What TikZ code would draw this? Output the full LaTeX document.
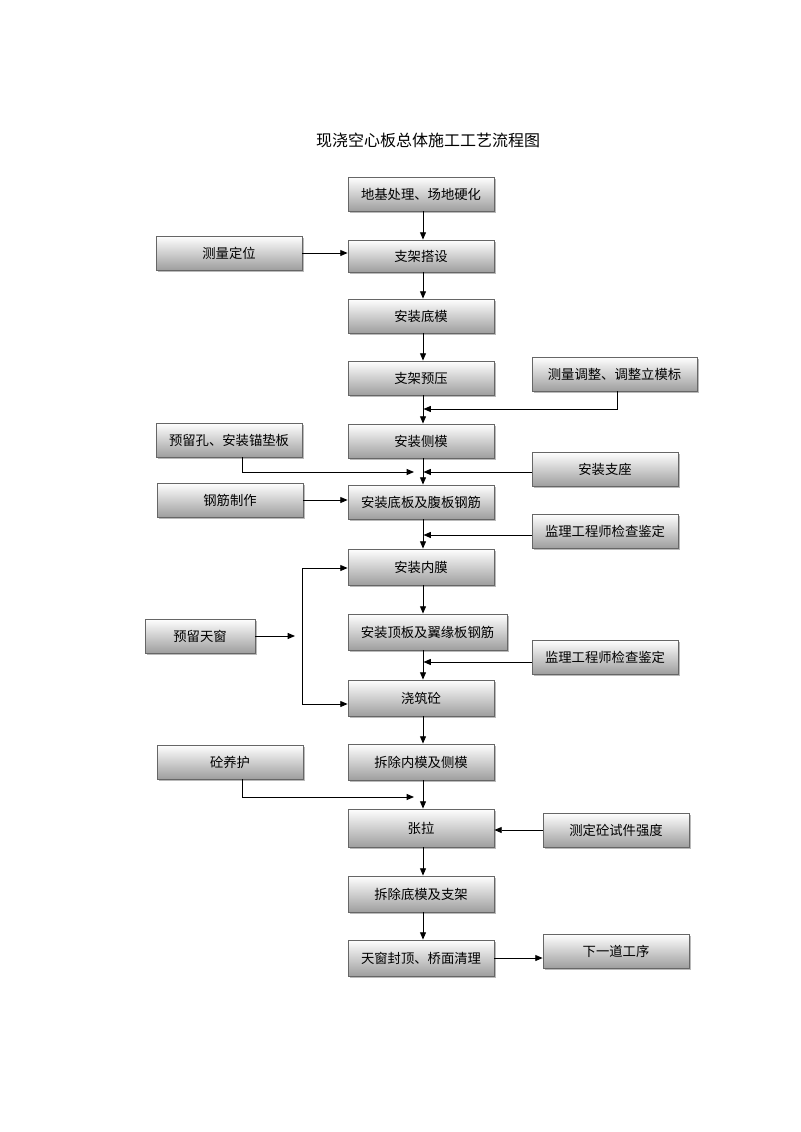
\documentclass[tikz,border=0pt]{standalone}
\usepackage{fontspec}
\newfontfamily\cjk{Noto Sans CJK SC}
\usetikzlibrary{arrows.meta,shadows,calc}
\begin{document}
\begin{tikzpicture}[x=0.75pt,y=-0.75pt,
  pbox/.style={draw=black!60, line width=0.6pt, top color=white, bottom color=black!38,
    minimum height=34*0.75pt, inner sep=0pt, font=\cjk\fontsize{10}{12}\selectfont,
    drop shadow={shadow xshift=1.2pt, shadow yshift=-1.2pt, fill=black!45, opacity=0.6}},
  w/.style={minimum width=#1*0.75pt},
  h/.style={minimum height=#1*0.75pt},
  conn/.style={line width=0.7pt, draw=black},
  arr/.style={conn, -{Triangle[length=5.5pt,width=4.5pt]}}]
\useasboundingbox (0,0) rectangle (800,1132);
\node[font=\cjk\fontsize{12}{14}\selectfont] (title) at (428,140) {现浇空心板总体施工工艺流程图};
% main column
\node[pbox,w=146] (n1) at (421,194) {地基处理、场地硬化};
\node[pbox,w=146,h=32] (n2) at (421,256) {支架搭设};
\node[pbox,w=146] (n3) at (421,316) {安装底模};
\node[pbox,w=146] (n4) at (421,378) {支架预压};
\node[pbox,w=146] (n5) at (421,441) {安装侧模};
\node[pbox,w=146] (n6) at (421,502) {安装底板及腹板钢筋};
\node[pbox,w=146,h=36] (n7) at (421,567) {安装内膜};
\node[pbox,w=159,h=36] (n8) at (427.5,632) {安装顶板及翼缘板钢筋};
\node[pbox,w=146,h=36] (n9) at (421,698) {浇筑砼};
\node[pbox,w=146,h=36] (n10) at (421,762) {拆除内模及侧模};
\node[pbox,w=146,h=38] (n11) at (421,828) {张拉};
\node[pbox,w=146,h=36] (n12) at (421,894) {拆除底模及支架};
\node[pbox,w=146,h=36] (n13) at (421,958) {天窗封顶、桥面清理};
% left column
\node[pbox,w=146] (l1) at (229,253) {测量定位};
\node[pbox,w=146] (l2) at (229,440) {预留孔、安装锚垫板};
\node[pbox,w=146] (l3) at (230,500) {钢筋制作};
\node[pbox,w=110] (l4) at (200,636) {预留天窗};
\node[pbox,w=146] (l5) at (230,762) {砼养护};
% right column
\node[pbox,w=165] (r1) at (614.5,374) {测量调整、调整立模标};
\node[pbox,w=146] (r2) at (605,469) {安装支座};
\node[pbox,w=146] (r3) at (605,531) {监理工程师检查鉴定};
\node[pbox,w=146] (r4) at (605,657) {监理工程师检查鉴定};
\node[pbox,w=146] (r5) at (616,830) {测定砼试件强度};
\node[pbox,w=146] (r6) at (616,951) {下一道工序};
% main flow line x
\coordinate (mx) at (423,0);
\foreach \a/\b in {n1/n2,n2/n3,n3/n4,n4/n5,n5/n6,n6/n7,n7/n8,n8/n9,n9/n10,n10/n11,n11/n12,n12/n13}
  \draw[arr] (\a.south -| mx) -- (\b.north -| mx);
% junction coordinates
\coordinate (j1) at (423.5,409);
\coordinate (j2) at (423.5,472);
\coordinate (j2l) at (414,472);
\coordinate (j3) at (423.5,535);
\coordinate (j4) at (423.5,662);
\coordinate (j5l) at (414,797);
\coordinate (wa) at (295,636);
\coordinate (br1) at (302,568);
\coordinate (br2) at (302,704);
% side connectors
\draw[arr] (l1.east) -- (l1.east -| n2.west);
\draw[arr] ($(r1.south)+(3,0)$) |- (j1);
\draw[arr] ($(l2.south)+(13,0)$) |- (j2l);
\draw[arr] (r2.west |- j2) -- (j2);
\draw[arr] (l3.east) -- (l3.east -| n6.west);
\draw[arr] (r3.west |- j3) -- (j3);
\draw[arr] (l4.east) -- (wa);
\draw[conn] (br1) -- (br2);
\draw[arr] (br1) -- (br1 -| n7.west);
\draw[arr] (br2) -- (br2 -| n9.west);
\draw[arr] (r4.west |- j4) -- (j4);
\draw[arr] ($(l5.south)+(12,0)$) |- (j5l);
\draw[arr] (r5.west) -- (r5.west -| n11.east);
\draw[arr] (n13.east) -- (n13.east -| r6.west);
\end{tikzpicture}
\end{document}
